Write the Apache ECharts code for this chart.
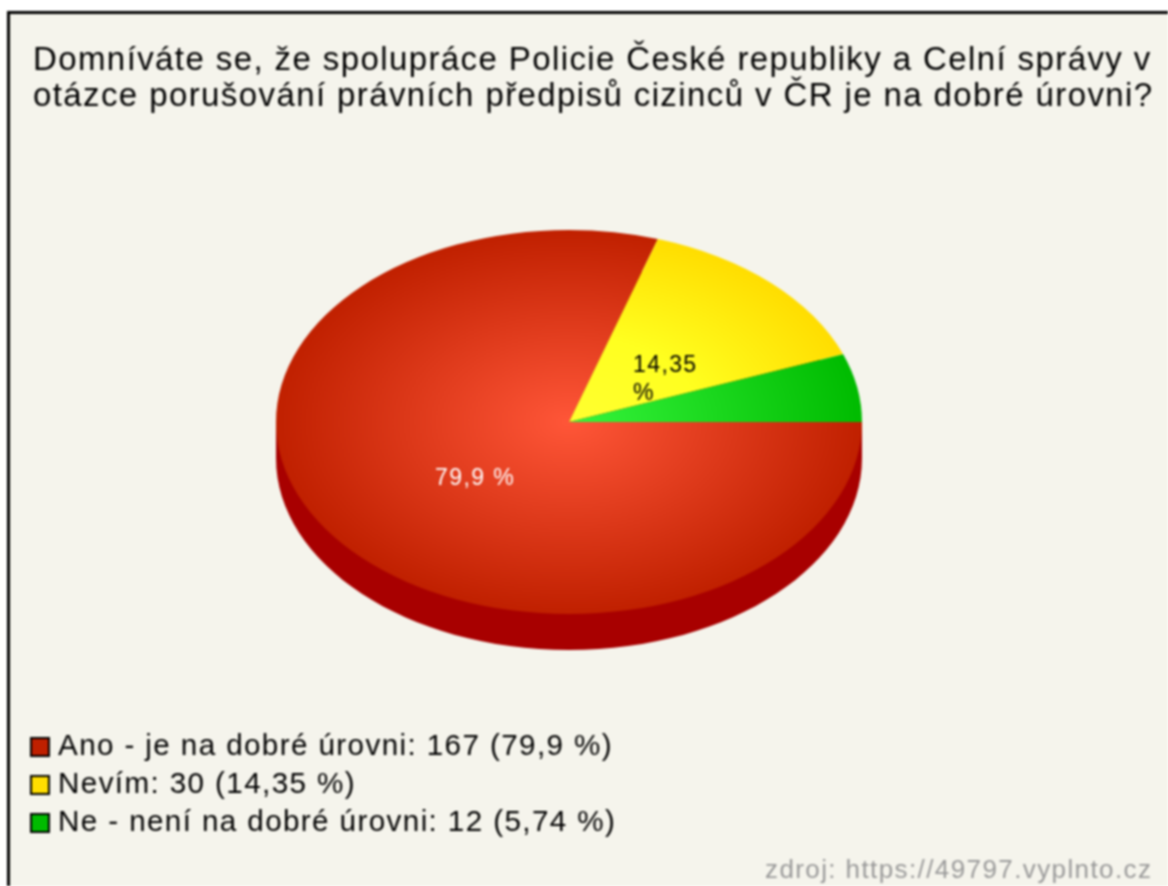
<!DOCTYPE html>
<html>
<head>
<meta charset="utf-8">
<title>Spolupráce Policie ČR a Celní správy</title>
<style>
  html, body { margin: 0; padding: 0; background: #fff; overflow: hidden; }
  #chart { width: 1168px; height: 886px; filter: blur(0.8px); }
</style>
</head>
<body>
<div id="chart"></div>
<script src="https://cdn.jsdelivr.net/npm/echarts@6/dist/echarts.min.js"></script>
<script>
  const titleLines = [
    'Domníváte se, že spolupráce Policie České republiky a Celní správy v',
    'otázce porušování právních předpisů cizinců v ČR je na dobré úrovni?'
  ];
  const categories = ['Ano - je na dobré úrovni', 'Nevím', 'Ne - není na dobré úrovni'];
  const counts = [167, 30, 12];
  const percents = ['79,9', '14,35', '5,74'];
  const sliceLabels = ['79,9 %', '14,35\n%', null];
  const sourceText = 'zdroj: https://49797.vyplnto.cz';

  // ellipse geometry of the tilted pie
  const cx = 569, cy = 422, rx = 293, ry = 192, depth = 36;
  const labelPos = [[435, 479], [633, 380], null];
  const labelColors = ['#fff', '#000', '#000'];
  const sliceColors = [
    { stops: [[0, '#ff5638'], [1, '#c02000']], key: '#c02000' },
    { stops: [[0, '#ffff30'], [0.45, '#ffff20'], [1, '#ffdd00']], key: '#ffdd00' },
    { stops: [[0, '#36f53c'], [1, '#00bb00']], key: '#00bb00' }
  ];
  const fontName = '"Liberation Sans", Arial, sans-serif';

  const total = counts.reduce((a, b) => a + b, 0);
  const legendNames = categories.map((c, i) => c + ': ' + counts[i] + ' (' + percents[i] + ' %)');

  function renderRim() {
    return {
      type: 'group',
      children: [
        { type: 'ellipse', shape: { cx: cx, cy: cy + depth, rx: rx, ry: ry }, style: { fill: '#a80000' } },
        { type: 'rect', shape: { x: cx - rx, y: cy, width: rx * 2, height: depth }, style: { fill: '#a80000' } }
      ]
    };
  }

  function renderSlice(idx, params, api) {
    const before = counts.slice(0, idx).reduce((a, b) => a + b, 0);
    const start = before / total * Math.PI * 2;
    const end = (before + api.value(0)) / total * Math.PI * 2;
    const children = [{
      type: 'sector',
      x: cx,
      y: cy,
      scaleY: ry / rx,
      shape: { cx: 0, cy: 0, r0: 0, r: rx, startAngle: start, endAngle: end },
      style: {
        fill: new echarts.graphic.RadialGradient(0, 0, rx,
          sliceColors[idx].stops.map(s => ({ offset: s[0], color: s[1] })), true)
      }
    }];
    if (sliceLabels[idx]) {
      children.push({
        type: 'text',
        x: labelPos[idx][0],
        y: labelPos[idx][1],
        z2: 10,
        style: {
          text: sliceLabels[idx],
          fill: labelColors[idx],
          fontSize: 23,
          fontFamily: fontName,
          lineHeight: 28,
          verticalAlign: 'middle'
        }
      });
    }
    return { type: 'group', children: children };
  }

  const chart = echarts.init(document.getElementById('chart'), null, { renderer: 'canvas' });

  const sliceSeries = categories.map((c, i) => ({
    type: 'custom',
    name: legendNames[i],
    coordinateSystem: 'none',
    z: 3 + i,
    itemStyle: { color: sliceColors[i].key },
    data: [[counts[i]]],
    renderItem: (params, api) => renderSlice(i, params, api)
  }));

  chart.setOption({
    animation: false,
    backgroundColor: '#fff',
    title: {
      text: titleLines.join('\n'),
      left: 33,
      top: 43,
      padding: 0,
      textStyle: { fontSize: 33, fontWeight: 'normal', color: '#000', fontFamily: fontName, lineHeight: 36 }
    },
    legend: {
      orient: 'vertical',
      left: 30,
      top: 732,
      padding: 0,
      itemWidth: 18,
      itemHeight: 18,
      itemGap: 8,
      selectedMode: false,
      icon: 'rect',
      data: legendNames,
      itemStyle: { borderColor: '#000', borderWidth: 2 },
      textStyle: { fontSize: 29.6, lineHeight: 30, color: '#000', fontFamily: fontName, padding: [0, 0, 0, 4] }
    },
    graphic: [
      {
        type: 'rect',
        z: -10,
        silent: true,
        shape: { x: 8.5, y: 12.5, width: 1300, height: 1000 },
        style: { fill: '#f5f4ec', stroke: '#000', lineWidth: 3 }
      },
      {
        type: 'text',
        left: 765,
        top: 858,
        silent: true,
        style: { text: sourceText, fill: '#999', fontSize: 26, fontFamily: fontName }
      }
    ],
    series: [{
      type: 'custom',
      name: 'rim',
      coordinateSystem: 'none',
      z: 2,
      data: [[total]],
      renderItem: renderRim
    }].concat(sliceSeries)
  });

  // the original text is set wide, ECharts has no option for that so set it on the canvas
  const zr = chart.getZr();
  zr.refreshImmediately();
  document.querySelector('#chart canvas').getContext('2d').letterSpacing = '1.4px';
  zr.painter.refresh(true);
</script>
</body>
</html>
